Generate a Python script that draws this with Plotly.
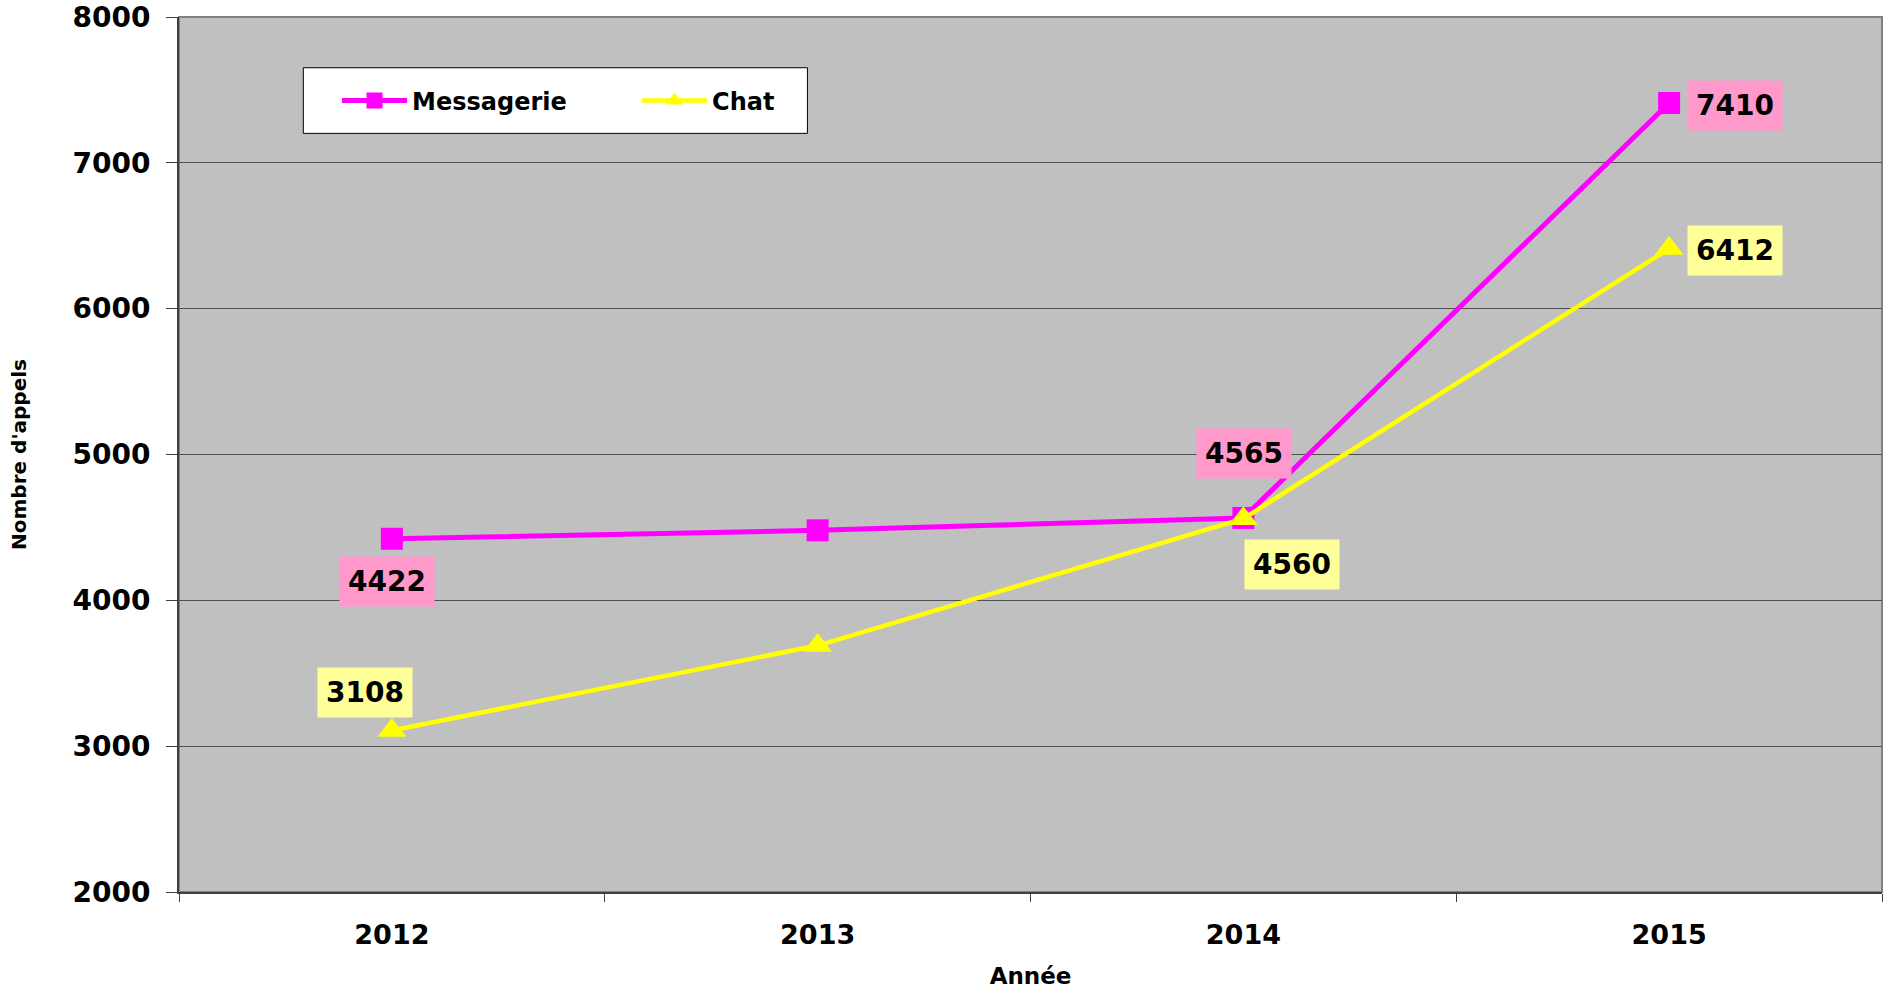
import plotly.graph_objects as go

annees = ["2012", "2013", "2014", "2015"]
messagerie = [4422, 4480, 4565, 7410]
chat = [3108, 3690, 4560, 6412]
y_ticks = [2000, 3000, 4000, 5000, 6000, 7000, 8000]

FONT = "DejaVu Sans, Liberation Sans, Arial"
PINK = "#FF00FF"
YELLOW = "#FFFF00"

fig = go.Figure()

fig.add_trace(go.Scatter(
    x=annees, y=messagerie, name="Messagerie", mode="lines+markers",
    line=dict(color=PINK, width=5),
    marker=dict(symbol="square", size=22, color=PINK),
))
fig.add_trace(go.Scatter(
    x=annees, y=chat, name="Chat", mode="lines+markers",
    line=dict(color=YELLOW, width=4.5),
    marker=dict(symbol="triangle-up", size=25, color=YELLOW),
))

# data labels (2013 is not labelled in the original)
# x given as category index, "2012" strings would be read as numbers
label_font = dict(family=FONT, size=28, color="black", weight="bold")
offsets_mess = {0: (-5, -43), 2: (1, 64), 3: (66, -2)}
offsets_chat = {0: (-27, 38), 2: (49, -46), 3: (66, -2)}
for values, offsets, bg in [(messagerie, offsets_mess, "#FF99CC"),
                            (chat, offsets_chat, "#FFFF99")]:
    for i, (dx, dy) in offsets.items():
        fig.add_annotation(
            x=i, y=values[i], text=str(values[i]), showarrow=False,
            xshift=dx, yshift=dy, bgcolor=bg, borderpad=8, font=label_font,
        )

# legend frame
fig.add_shape(type="rect", xref="paper", yref="paper",
              x0=0.073, x1=0.369, y0=0.867, y1=0.942,
              fillcolor="white", line=dict(color="black", width=1), layer="above")

# plot area frame (top / right)
fig.add_shape(type="rect", xref="paper", yref="paper", x0=0, x1=1, y0=0, y1=1,
              line=dict(color="#808080", width=2), layer="below")

fig.update_layout(
    width=1883, height=989,
    margin=dict(l=179, r=1, t=17, b=97),
    paper_bgcolor="white", plot_bgcolor="#C0C0C0",
    font=dict(family=FONT, color="black"),
    showlegend=True,
    legend=dict(
        orientation="h", x=0.0928, xanchor="left", y=0.904, yanchor="middle",
        bgcolor="rgba(0,0,0,0)", borderwidth=0, entrywidth=220, itemwidth=65,
        font=dict(family=FONT, size=24, weight="bold"),
    ),
)

fig.update_xaxes(
    type="category", range=[-0.5, 3.5], automargin=False,
    showgrid=False, showline=True, linecolor="#404040", linewidth=2,
    ticks="outside", tickson="boundaries", ticklen=8, tickcolor="#404040",
    tickfont=dict(family=FONT, size=27, weight="bold"), ticklabelstandoff=18,
    title=dict(text="Année", font=dict(family=FONT, size=23, weight="bold"), standoff=21),
)
fig.update_yaxes(
    range=[2000, 8000], tickvals=y_ticks, automargin=False,
    showgrid=True, gridcolor="#505050", gridwidth=1,
    showline=True, linecolor="#404040", linewidth=2, zeroline=False,
    ticks="outside", ticklen=11, tickcolor="#404040",
    tickfont=dict(family=FONT, size=28, weight="bold"), ticklabelstandoff=10,
    title=dict(text="Nombre d'appels", font=dict(family=FONT, size=20, weight="bold"), standoff=40),
)

# drop the default body margin so the figure fills the window exactly
fig.write_html(
    "out.html",
    config={"displayModeBar": False},
    post_script="document.body.style.margin='0';document.body.style.overflow='hidden';",
)
